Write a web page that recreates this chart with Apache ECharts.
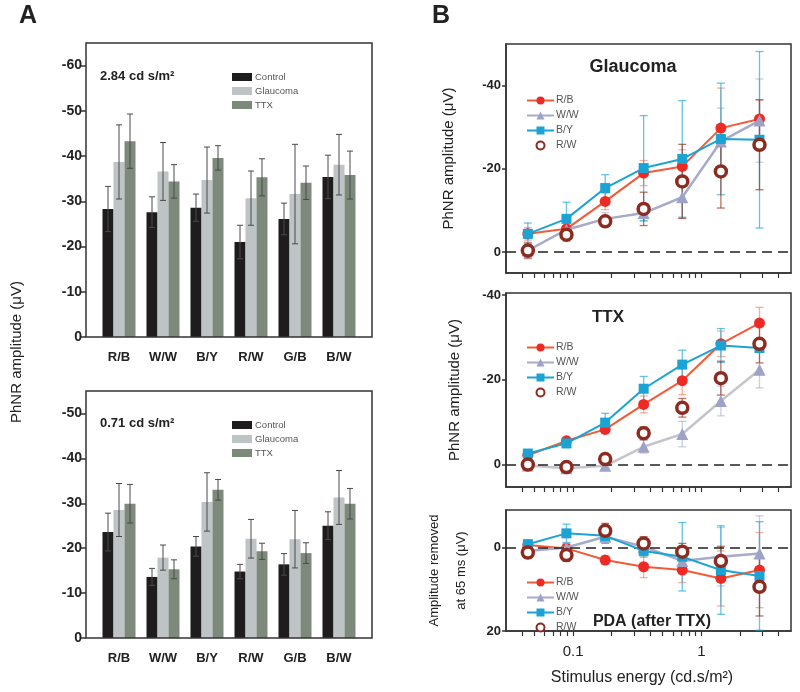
<!DOCTYPE html>
<html>
<head>
<meta charset="utf-8">
<script src="https://cdn.jsdelivr.net/npm/echarts@6/dist/echarts.min.js"></script>
<style>html,body{margin:0;background:#fff}#chart{width:800px;height:692px}</style>
</head>
<body>
<div id="chart"></div>
<script>
// panel A: bar groups
const groups = ['R/B', 'W/W', 'B/Y', 'R/W', 'G/B', 'B/W'];
const barNames = ['Control', 'Glaucoma', 'TTX'];
const hiControl = [-28.3, -27.6, -28.6, -21.0, -26.1, -35.4];
const hiControlErr = [5.0, 3.4, 3.0, 3.7, 3.5, 4.8];
const hiGlaucoma = [-38.7, -36.6, -34.7, -30.7, -31.6, -38.1];
const hiGlaucomaErr = [8.2, 6.4, 7.3, 6.0, 11.0, 6.7];
const hiTtx = [-43.3, -34.4, -39.6, -35.3, -34.1, -35.8];
const hiTtxErr = [6.0, 3.7, 2.7, 4.1, 3.7, 5.3];
const loControl = [-23.6, -13.6, -20.4, -14.8, -16.4, -25.0];
const loControlErr = [4.2, 1.9, 2.2, 1.6, 2.4, 3.1];
const loGlaucoma = [-28.5, -17.9, -30.3, -22.1, -22.0, -31.3];
const loGlaucomaErr = [5.9, 2.8, 6.5, 4.3, 6.4, 6.0];
const loTtx = [-29.9, -15.3, -33.0, -19.3, -18.9, -29.9];
const loTtxErr = [4.3, 2.1, 2.3, 1.8, 2.3, 3.4];
const ticksA1 = [-60, -50, -40, -30, -20, -10, 0];
const ticksA2 = [-50, -40, -30, -20, -10, 0];

// panel B: stimulus series
const energies = [0.0444, 0.0888, 0.178, 0.355, 0.71, 1.42, 2.84];
const lineNames = ['R/B', 'W/W', 'B/Y', 'R/W'];
const glRB = [-4.4, -5.6, -12.2, -19.0, -20.6, -29.8, -32.0];
const glRBErr = [1.5, 1.5, 2, 3, 4, 9.6, 4.6];
const glWW = [-0.4, -5.4, -8.0, -9.4, -13.2, -26.6, -31.6];
const glWWErr = [2, 1.5, 1.5, 2, 5, 8, 10];
const glBY = [-4.4, -8.0, -15.4, -20.2, -22.4, -27.2, -27.0];
const glBYErr = [2.6, 4, 3.2, 12.6, 14, 13.4, 21.2];
const glRW = [-0.4, -4.2, -7.4, -10.4, -17.0, -19.4, -25.8];
const glRWErr = [1.8, 1.5, 1, 4, 8.9, 8.8, 10.8];
const ttRB = [-2.2, -5.6, -8.3, -14.2, -19.8, -28.5, -33.4];
const ttRBErr = [1, 0.8, 1, 2, 3.3, 3, 3.7];
const ttWW = [0.2, 0.9, 0.3, -4.2, -7.2, -15.0, -22.4];
const ttWWErr = [0.6, 0.6, 0.6, 1.5, 3, 3.5, 4.3];
const ttBY = [-2.6, -5.0, -9.9, -17.9, -23.6, -28.1, -27.5];
const ttBYErr = [0.8, 1, 2.2, 2.9, 3.4, 4, 1];
const ttRW = [0, 0.6, -1.3, -7.4, -13.4, -20.4, -28.5];
const ttRWErr = [0.6, 0.6, 0.8, 1.5, 2.2, 4, 4.5];
const pdRB = [-0.6, 0.2, 3.0, 4.6, 5.4, 7.4, 5.4];
const pdRBErr = [1, 1, 1, 2.6, 3, 6.6, 9];
const pdWW = [0.8, 0, -2.6, -0.2, 3.2, 2.2, 1.4];
const pdWWErr = [1, 1, 1.5, 1.5, 3, 7, 9];
const pdBY = [-0.8, -3.4, -2.8, 0.8, 2.2, 5.4, 6.8];
const pdBYErr = [1, 2.2, 1.8, 1.5, 8.2, 10.6, 13];
const pdRW = [1.2, 1.8, -4.0, -1.0, 1.0, 3.2, 9.4];
const pdRWErr = [1.3, 1.5, 1.8, 1.6, 2, 3.5, 7];
const xLabels = [0.1, 1];
const xTicks = [0.04, 0.05, 0.06, 0.07, 0.08, 0.09, 0.1, 0.2, 0.3, 0.4, 0.5, 0.6, 0.7, 0.8, 0.9, 1, 2, 3, 4];
const ticksB1 = [-40, -20, 0];
const ticksB3 = [0, 20];

const font = 'Liberation Sans, Arial, sans-serif';
const barColors = ['#1f1c1d', '#bec4c5', '#7c897b'];
const barW = 11;
const lg = v => Math.log10(v);

let chart = echarts.init(document.getElementById('chart'));

function errRender(dx, color, cap, width) {
  return function (params, api) {
    let p1 = api.coord([api.value(0), api.value(1) - api.value(2)]);
    let p2 = api.coord([api.value(0), api.value(1) + api.value(2)]);
    let x = p1[0] + dx;
    let st = { stroke: color, lineWidth: width };
    return {
      type: 'group',
      children: [
        { type: 'line', shape: { x1: x, y1: p1[1], x2: x, y2: p2[1] }, style: st },
        { type: 'line', shape: { x1: x - cap, y1: p1[1], x2: x + cap, y2: p1[1] }, style: st },
        { type: 'line', shape: { x1: x - cap, y1: p2[1], x2: x + cap, y2: p2[1] }, style: st }
      ]
    };
  };
}

// grids: two bar panels, three line panels
let grids = [
  { left: 97, width: 264, top: 43, height: 294 },
  { left: 97, width: 264, top: 391, height: 247 },
  { left: 506, width: 285, top: 44, height: 229, show: true, borderColor: '#333', borderWidth: 1.5 },
  { left: 506, width: 285, top: 293, height: 194, show: true, borderColor: '#333', borderWidth: 1.5 },
  { left: 506, width: 285, top: 510, height: 121, show: true, borderColor: '#333', borderWidth: 1.5 }
].map(g => Object.assign({ outerBoundsMode: 'none', containLabel: false }, g));

let xAxes = [];
let yAxes = [];
[0, 1].forEach(p => {
  xAxes.push({
    type: 'category', gridIndex: p, data: groups,
    axisLine: { show: false }, axisTick: { show: false },
    axisLabel: { margin: 14, fontFamily: font, fontWeight: 'bold', fontSize: 13, color: '#222' }
  });
  let ticks = p === 0 ? ticksA1 : ticksA2;
  yAxes.push({
    type: 'value', gridIndex: p, inverse: true, min: p === 0 ? -65 : -55, max: 0, offset: 11,
    axisLine: { show: false },
    axisTick: { show: true, length: 5, customValues: ticks, lineStyle: { color: '#333', width: 1.5 } },
    axisLabel: { customValues: ticks, margin: 4, fontFamily: font, fontWeight: 'bold', fontSize: 14, color: '#222' },
    splitLine: { show: false }
  });
});

let bRanges = [[-50, 5], [-40.5, 5.3], [-9, 20]];
let bTicks = [ticksB1, ticksB1, ticksB3];
let bNames = ['PhNR amplitude (μV)', 'PhNR amplitude (μV)', 'Amplitude removed\nat 65 ms (μV)'];
let bGaps = [44, 38, 31];
[0, 1, 2].forEach(j => {
  let g = 2 + j;
  // x is log10 of stimulus energy; only the lowest panel shows numbers
  xAxes.push({
    type: 'value', gridIndex: g, position: 'bottom', min: lg(0.03), max: lg(5),
    axisLine: { show: true, onZero: false, lineStyle: { color: '#333', width: 1.5 } },
    axisTick: { show: true, inside: false, length: 5, customValues: xTicks.map(lg), lineStyle: { color: '#333', width: 1.2 } },
    axisLabel: {
      show: true, customValues: xLabels.map(lg), margin: 13,
      fontFamily: font, fontSize: 15, color: '#222',
      formatter: v => j === 2 ? String(Math.round(Math.pow(10, v) * 1000) / 1000) : ''
    },
    splitLine: { show: false }
  });
  yAxes.push({
    type: 'value', gridIndex: g, inverse: true, min: bRanges[j][0], max: bRanges[j][1],
    name: bNames[j], nameLocation: 'middle', nameGap: bGaps[j], nameRotate: 90,
    nameTextStyle: { fontFamily: font, fontSize: j === 2 ? 13 : 15, color: '#222', lineHeight: 27 },
    axisLine: { show: true, onZero: false, lineStyle: { color: '#333', width: 1.5 } },
    axisTick: { show: true, length: 4, customValues: bTicks[j], lineStyle: { color: '#333', width: 1.5 } },
    axisLabel: { customValues: bTicks[j], margin: 5, fontFamily: font, fontWeight: 'bold', fontSize: 13, color: '#222' },
    splitLine: { show: false }
  });
});

let series = [];
// bars with error bars
let barSets = [
  [[hiControl, hiControlErr], [hiGlaucoma, hiGlaucomaErr], [hiTtx, hiTtxErr]],
  [[loControl, loControlErr], [loGlaucoma, loGlaucomaErr], [loTtx, loTtxErr]]
];
barSets.forEach((set, p) => {
  set.forEach((pair, k) => {
    series.push({
      name: barNames[k], type: 'bar', xAxisIndex: p, yAxisIndex: p,
      data: pair[0], barWidth: barW, barGap: '0%',
      itemStyle: { color: barColors[k] }, z: 2
    });
  });
  set.forEach((pair, k) => {
    series.push({
      name: 'errA' + p + k, type: 'custom', xAxisIndex: p, yAxisIndex: p, z: 3,
      renderItem: errRender((k - 1) * barW, '#4a4a4a', 3, 1),
      data: groups.map((g, i) => [i, pair[0][i], pair[1][i]])
    });
  });
});

// line panels
let lineSets = [
  [[glRB, glRBErr], [glWW, glWWErr], [glBY, glBYErr], [glRW, glRWErr]],
  [[ttRB, ttRBErr], [ttWW, ttWWErr], [ttBY, ttBYErr], [ttRW, ttRWErr]],
  [[pdRB, pdRBErr], [pdWW, pdWWErr], [pdBY, pdBYErr], [pdRW, pdRWErr]]
];
let lineStyles = [
  { symbol: 'circle', symbolSize: 11, itemStyle: { color: '#ee2a24' }, lineStyle: { color: '#f25a38', width: 2 }, err: 'rgba(240,110,80,0.55)' },
  { symbol: 'triangle', symbolSize: 12, itemStyle: { color: '#9ea2c6' }, lineStyle: { color: '#a6aacb', width: 2.5 }, err: 'rgba(150,155,190,0.5)' },
  { symbol: 'rect', symbolSize: 10, itemStyle: { color: '#1aa3d3' }, lineStyle: { color: '#1aa3d3', width: 2 }, err: 'rgba(40,170,215,0.7)' },
  { symbol: 'circle', symbolSize: 11, itemStyle: { color: '#fff', borderColor: '#8c2b1f', borderWidth: 3.5 }, lineStyle: { opacity: 0, width: 0 }, err: 'rgba(150,60,40,0.7)' }
];
lineSets.forEach((set, j) => {
  let g = 2 + j;
  set.forEach((pair, s) => {
    let st = lineStyles[s];
    let errSeries = {
      name: 'errB' + j + s, type: 'custom', xAxisIndex: g, yAxisIndex: g, z: 2,
      renderItem: errRender(0, st.err, 4, 1.3),
      data: energies.map((e, i) => [lg(e), pair[0][i], pair[1][i]])
    };
    if (s === 0) {
      errSeries.markLine = {
        silent: true, symbol: 'none', label: { show: false },
        lineStyle: { color: '#222', width: 1.5, type: [10, 6] },
        data: [{ yAxis: 0 }]
      };
    }
    series.push(errSeries);
  });
  set.forEach((pair, s) => {
    let st = lineStyles[s];
    let ls = Object.assign({}, st.lineStyle);
    if (j === 1 && s === 1) ls.color = '#c4c4ca';
    series.push({
      name: lineNames[s], type: 'line', xAxisIndex: g, yAxisIndex: g, z: 3 + s,
      symbol: st.symbol, symbolSize: st.symbolSize, showSymbol: true,
      itemStyle: st.itemStyle, lineStyle: ls,
      data: energies.map((e, i) => [lg(e), pair[0][i]])
    });
  });
});

let legendA = top => ({
  data: barNames, left: 227, top: top, orient: 'vertical', icon: 'rect',
  itemWidth: 20, itemHeight: 8, itemGap: 4, selectedMode: false,
  textStyle: { fontFamily: font, fontSize: 9.5, color: '#555', padding: [0, 0, 0, -2] }
});
let legendB = top => ({
  data: lineNames, left: 521, top: top, orient: 'vertical',
  itemWidth: 27, itemHeight: 10, itemGap: 4, selectedMode: false,
  textStyle: { fontFamily: font, fontSize: 10.5, color: '#555', padding: [0, 0, 0, -3] }
});

let txt = (x, y, s, size, align) => ({
  type: 'text', x: x, y: y,
  style: { text: s, fontFamily: font, fontSize: size, fontWeight: 'bold', fill: '#222', textAlign: align || 'left', textVerticalAlign: 'middle' }
});

let option = {
  animation: false,
  backgroundColor: '#fff',
  grid: grids,
  xAxis: xAxes,
  yAxis: yAxes,
  legend: [legendA(67), legendA(415), legendB(90), legendB(337), legendB(572)],
  series: series,
  graphic: [
    { type: 'rect', shape: { x: 86, y: 43, width: 286, height: 294 }, style: { fill: 'none', stroke: '#333', lineWidth: 1.5 }, z: 10 },
    { type: 'rect', shape: { x: 86, y: 391, width: 286, height: 247 }, style: { fill: 'none', stroke: '#333', lineWidth: 1.5 }, z: 10 },
    txt(19, 16, 'A', 25),
    txt(432, 16, 'B', 25),
    txt(100, 76, '2.84 cd s/m²', 13),
    txt(100, 423, '0.71 cd s/m²', 13),
    {
      type: 'text', x: 17, y: 352, rotation: Math.PI / 2,
      style: { text: 'PhNR amplitude (μV)', fontFamily: font, fontSize: 15, fill: '#222', textAlign: 'center', textVerticalAlign: 'middle' }
    },
    txt(633, 67, 'Glaucoma', 18, 'center'),
    txt(608, 317, 'TTX', 17, 'center'),
    txt(652, 622, 'PDA (after TTX)', 16, 'center'),
    {
      type: 'text', x: 642, y: 678,
      style: { text: 'Stimulus energy (cd.s/m²)', fontFamily: font, fontSize: 16, fill: '#222', textAlign: 'center', textVerticalAlign: 'middle' }
    }
  ]
};

chart.setOption(option, true);
</script>
</body>
</html>
